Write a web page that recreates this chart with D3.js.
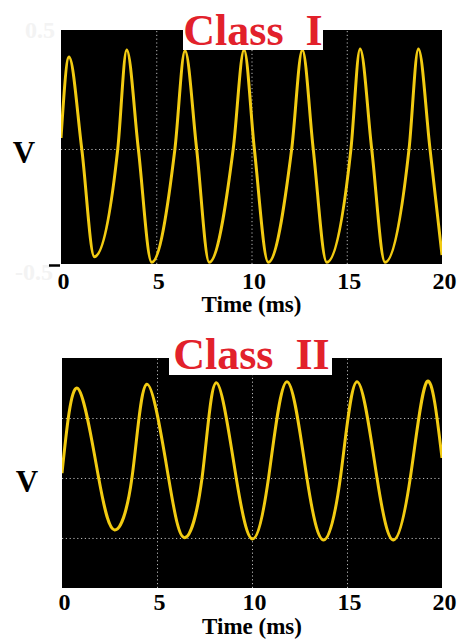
<!DOCTYPE html>
<html>
<head>
<meta charset="utf-8">
<script src="https://cdn.jsdelivr.net/npm/d3@7"></script>
<style>
  html, body { margin: 0; padding: 0; background: #fff; }
  svg { display: block; font-family: "Liberation Serif", "Times New Roman", serif; }
</style>
</head>
<body>
<svg id="chart" width="458" height="639"></svg>
<script>
// ---- data -------------------------------------------------------------
const xTicks = [0, 5, 10, 15, 20];
const xGrid = [5, 10, 15];
const xLabel = "Time (ms)";
const yLabel = "V";
const topTitle = "Class\u00a0\u00a0I";
const bottomTitle = "Class\u00a0\u00a0II";
const topYTickLabels = ["0.5", "-0.5"];

// Class I waveform: extrema and zero crossings (ms, V)
const topTime = [0, 0.42, 1.09, 1.75, 2.98, 3.45, 4.06, 4.76, 5.98, 6.51, 7.12, 7.78,
                 9.04, 9.61, 10.15, 10.88, 12.11, 12.67, 13.24, 13.95, 15.22, 15.70,
                 16.31, 17.01, 18.27, 18.76, 19.37, 20];
const topVolt = [0.047, 0.393, 0, -0.460, 0, 0.423, 0, -0.484, 0, 0.419, 0, -0.484,
                 0, 0.423, 0, -0.484, 0, 0.423, 0, -0.484, 0, 0.427,
                 0, -0.484, 0, 0.427, 0, -0.453];
const topGridY = [0];

// Class II waveform: extrema and zero crossings (ms, V)
const bottomTime = [0, 0.82, 1.93, 2.77, 3.68, 4.47, 5.61, 6.45, 7.37, 8.12, 9.17, 10.03,
                    10.87, 11.84, 12.89, 13.77, 14.65, 15.53, 16.58, 17.45, 18.33, 19.21, 20];
const bottomVolt = [0.04, 0.748, 0, -0.433, 0, 0.781, 0, -0.498, 0, 0.794, 0, -0.508,
                    0, 0.803, 0, -0.517, 0, 0.803, 0, -0.517, 0, 0.803, 0.167];
const bottomGridY = [-0.5, 0, 0.5];

// ---- layout -----------------------------------------------------------
const panels = [
  {
    title: topTitle, time: topTime, volt: topVolt, gridY: topGridY,
    yDomain: [-0.491, 0.508], curve: d3.curveMonotoneX,
    frame: { x0: 61, x1: 442, y0: 30, y1: 264 },
    titleX: 253, titleBase: 45, box: { x0: 183, x1: 323, y0: 10, y1: 50 },
    vX: 24, vBase: 163, tickBase: 289, labelBase: 312
  },
  {
    title: bottomTitle, time: bottomTime, volt: bottomVolt, gridY: bottomGridY,
    yDomain: [-0.917, 1.0], curve: d3.curveNatural,
    frame: { x0: 62, x1: 442, y0: 358, y1: 588 },
    titleX: 251.5, titleBase: 369, box: { x0: 169, x1: 332, y0: 337, y1: 375 },
    vX: 27, vBase: 492, tickBase: 610, labelBase: 634
  }
];

const serif = '"Liberation Serif", "Times New Roman", serif';
const svg = d3.select("#chart");
const lineColor = "#f2cb12";
const gridColor = "#b8b8b8";
const titleColor = "#e2212b";

// faint y tick labels of the upper panel
svg.append("text").attr("x", 40).attr("y", 38).attr("text-anchor", "middle")
  .attr("font-size", 24).attr("font-weight", "bold").attr("fill", "#f3f3f3")
  .text(topYTickLabels[0]);
svg.append("text").attr("x", 34).attr("y", 280).attr("text-anchor", "middle")
  .attr("font-size", 24).attr("font-weight", "bold").attr("fill", "#f3f3f3")
  .text(topYTickLabels[1]);

panels.forEach((p, i) => {
  const f = p.frame;
  const x = d3.scaleLinear().domain([xTicks[0], xTicks[xTicks.length - 1]]).range([f.x0, f.x1]);
  const y = d3.scaleLinear().domain(p.yDomain).range([f.y1, f.y0]);
  const g = svg.append("g");

  // plot background
  g.append("rect").attr("x", f.x0).attr("y", f.y0)
    .attr("width", f.x1 - f.x0).attr("height", f.y1 - f.y0).attr("fill", "#000");

  // dotted grid
  const gx = g.append("g").attr("transform", `translate(0,${f.y1})`)
    .call(d3.axisBottom(x).tickValues(xGrid).tickSize(-(f.y1 - f.y0)).tickFormat(""));
  const gy = g.append("g").attr("transform", `translate(${f.x0},0)`)
    .call(d3.axisLeft(y).tickValues(p.gridY).tickSize(-(f.x1 - f.x0)).tickFormat(""));
  [gx, gy].forEach(a => {
    a.select(".domain").remove();
    a.selectAll("line").attr("stroke", gridColor).attr("stroke-width", 1)
      .attr("stroke-dasharray", "1.2,2.6");
  });

  // waveform
  const clipId = "clip" + i;
  svg.append("clipPath").attr("id", clipId).append("rect")
    .attr("x", f.x0).attr("y", f.y0).attr("width", f.x1 - f.x0).attr("height", f.y1 - f.y0);
  const pts = p.time.map((t, k) => [t, p.volt[k]]);
  g.append("path").datum(pts)
    .attr("clip-path", `url(#${clipId})`)
    .attr("fill", "none").attr("stroke", lineColor).attr("stroke-width", 3)
    .attr("stroke-linejoin", "round")
    .attr("d", d3.line().x(d => x(d[0])).y(d => y(d[1])).curve(p.curve));

  // x axis tick labels
  const ax = g.append("g").attr("transform", `translate(0,${f.y1})`)
    .call(d3.axisBottom(x).tickValues(xTicks).tickSize(0).tickFormat(d3.format("d")));
  ax.attr("font-family", serif).attr("font-size", 24);
  ax.select(".domain").remove();
  ax.selectAll("text").attr("dy", null).attr("y", p.tickBase - f.y1).attr("dx", 2)
    .attr("font-weight", "bold").attr("fill", "#000");

  // axis labels
  g.append("text").attr("x", (f.x0 + f.x1) / 2).attr("y", p.labelBase)
    .attr("text-anchor", "middle").attr("font-size", 23).attr("font-weight", "bold")
    .text(xLabel);
  g.append("text").attr("x", p.vX).attr("y", p.vBase)
    .attr("text-anchor", "middle").attr("font-size", 31).attr("font-weight", "bold")
    .text(yLabel);

  // title on a white plate
  g.append("rect").attr("x", p.box.x0).attr("y", p.box.y0)
    .attr("width", p.box.x1 - p.box.x0).attr("height", p.box.y1 - p.box.y0).attr("fill", "#fff");
  g.append("text").attr("x", p.titleX).attr("y", p.titleBase)
    .attr("text-anchor", "middle").attr("font-size", 44).attr("font-weight", "bold")
    .attr("fill", titleColor).text(p.title);
});

// small tick stub beside the lower-left corner of the upper panel
svg.append("line").attr("x1", 49).attr("x2", 60).attr("y1", 265.5).attr("y2", 265.5)
  .attr("stroke", "#000").attr("stroke-width", 2.5);
</script>
</body>
</html>
